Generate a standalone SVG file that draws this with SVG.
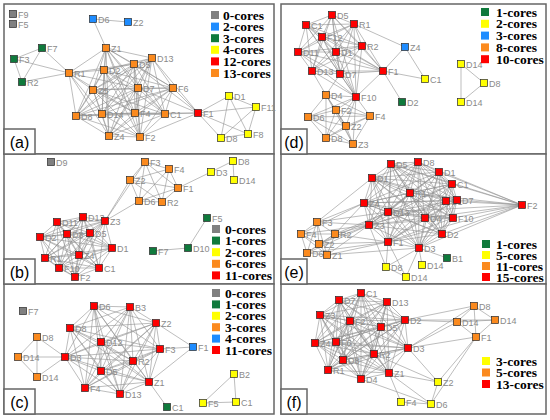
<svg xmlns="http://www.w3.org/2000/svg" width="550" height="420" viewBox="0 0 550 420">
<style>
.pn{fill:#fff;stroke:#666;stroke-width:1.5}
.e{fill:none;stroke:#909090;stroke-width:0.6;stroke-linecap:round}
.n rect{stroke:#2a2a2a;stroke-width:0.7}
.n text{font-family:"Liberation Sans",Arial,sans-serif;font-size:9px;fill:#8a8a8a}
.k0 rect,.q0{fill:#808080}
.kb rect,.qb{fill:#1e8cff}
.kg rect,.qg{fill:#0f7a3c}
.ky rect,.qy{fill:#ffff00}
.ko rect,.qo{fill:#fb8a1e}
.kr rect,.qr{fill:#ff0000}
.lg text{font-family:"Liberation Serif","Times New Roman",serif;font-weight:bold;font-size:13.5px;fill:#000}
.lb rect{fill:#fff;stroke:#666;stroke-width:1.5}
.lb text{font-family:"Liberation Sans",Arial,sans-serif;font-size:16px;fill:#000;text-anchor:middle}
</style>
<rect width="550" height="420" fill="#fff"/>
<g id="panels">
<rect class="pn" x="4" y="4" width="270" height="150"/>
<rect class="pn" x="4" y="154" width="270" height="130"/>
<rect class="pn" x="4" y="284" width="270" height="130"/>
<rect class="pn" x="281" y="4" width="265" height="150"/>
<rect class="pn" x="281" y="154" width="265" height="130"/>
<rect class="pn" x="281" y="284" width="265" height="130"/>
</g>
<g id="connectors">
<path class="e" d="M106 48 104 70M106 48 134 64M106 48 152 58M106 48 69 73M106 48 93 90M106 48 138 88M106 48 173 88M106 48 76 116M106 48 102 114M106 48 135 113M106 48 165 114M106 48 109 136M106 48 140 137M104 70 134 64M104 70 152 58M104 70 69 73M104 70 93 90M104 70 138 88M104 70 173 88M104 70 76 116M104 70 102 114M104 70 135 113M104 70 165 114M104 70 109 136M104 70 140 137M134 64 152 58M134 64 69 73M134 64 93 90M134 64 138 88M134 64 173 88M134 64 76 116M134 64 102 114M134 64 135 113M134 64 165 114M134 64 109 136M134 64 140 137M152 58 93 90M152 58 138 88M152 58 173 88M152 58 76 116M152 58 102 114M152 58 135 113M152 58 165 114M152 58 109 136M152 58 140 137M69 73 93 90M69 73 138 88M69 73 76 116M69 73 102 114M69 73 135 113M69 73 109 136M93 90 138 88M93 90 173 88M93 90 76 116M93 90 102 114M93 90 135 113M93 90 165 114M93 90 109 136M93 90 140 137M138 88 173 88M138 88 76 116M138 88 102 114M138 88 135 113M138 88 165 114M138 88 109 136M138 88 140 137M173 88 76 116M173 88 102 114M173 88 135 113M173 88 165 114M173 88 109 136M173 88 140 137M76 116 102 114M76 116 135 113M76 116 165 114M76 116 109 136M76 116 140 137M102 114 135 113M102 114 165 114M102 114 109 136M102 114 140 137M135 113 165 114M135 113 109 136M135 113 140 137M165 114 109 136M165 114 140 137M109 136 140 137"/>
<path class="e" d="M93 19 128 22M93 19 106 48M42 48 14 59M14 59 22 82M42 48 22 82M42 48 69 73M14 59 69 73M22 82 69 73M198 113 173 88M198 113 165 114M198 113 152 58M198 113 138 88M198 113 135 113M198 113 140 137M198 113 134 64M198 113 229 96M198 113 256 107M198 113 248 134M198 113 221 138M229 96 256 107M229 96 248 134M229 96 221 138M256 107 248 134M256 107 221 138M248 134 221 138"/>
<path class="e" d="M332 15 306 25M332 15 354 24M332 15 322 37M332 15 298 52M332 15 336 52M332 15 362 46M332 15 312 71M332 15 340 74M332 15 383 71M332 15 356 97M306 25 354 24M306 25 322 37M306 25 298 52M306 25 336 52M306 25 362 46M306 25 312 71M306 25 340 74M306 25 383 71M306 25 356 97M354 24 322 37M354 24 298 52M354 24 336 52M354 24 362 46M354 24 312 71M354 24 340 74M354 24 383 71M354 24 356 97M322 37 298 52M322 37 336 52M322 37 362 46M322 37 312 71M322 37 340 74M322 37 383 71M322 37 356 97M298 52 336 52M298 52 362 46M298 52 312 71M298 52 340 74M298 52 383 71M298 52 356 97M336 52 362 46M336 52 312 71M336 52 340 74M336 52 383 71M336 52 356 97M362 46 312 71M362 46 340 74M362 46 383 71M362 46 356 97M312 71 340 74M312 71 383 71M312 71 356 97M340 74 383 71M340 74 356 97M383 71 356 97"/>
<path class="e" d="M356 97 326 95M356 97 336 110M356 97 308 117M356 97 370 116M356 97 346 126M356 97 326 138M356 97 353 144M326 95 336 110M326 95 308 117M326 95 370 116M326 95 346 126M326 95 326 138M326 95 353 144M336 110 308 117M336 110 370 116M336 110 346 126M336 110 326 138M336 110 353 144M308 117 370 116M308 117 346 126M308 117 326 138M308 117 353 144M370 116 346 126M370 116 326 138M370 116 353 144M346 126 326 138M346 126 353 144M326 138 353 144M312 71 326 95M340 74 326 95M354 24 405 47M383 71 405 47M383 71 425 79M405 47 425 79M383 71 402 102M461 64 484 83M484 83 461 102M461 64 461 102"/>
<path class="e" d="M57 222 83 217M57 222 105 221M57 222 67 234M57 222 90 233M57 222 40 237M57 222 112 248M57 222 45 258M57 222 79 255M57 222 59 268M57 222 99 268M57 222 75 277M83 217 105 221M83 217 67 234M83 217 90 233M83 217 40 237M83 217 112 248M83 217 45 258M83 217 79 255M83 217 59 268M83 217 99 268M83 217 75 277M105 221 67 234M105 221 90 233M105 221 40 237M105 221 112 248M105 221 45 258M105 221 79 255M105 221 59 268M105 221 99 268M105 221 75 277M67 234 90 233M67 234 40 237M67 234 112 248M67 234 45 258M67 234 79 255M67 234 59 268M67 234 99 268M67 234 75 277M90 233 40 237M90 233 112 248M90 233 45 258M90 233 79 255M90 233 59 268M90 233 99 268M90 233 75 277M40 237 112 248M40 237 45 258M40 237 79 255M40 237 59 268M40 237 99 268M40 237 75 277M112 248 45 258M112 248 79 255M112 248 59 268M112 248 99 268M112 248 75 277M45 258 79 255M45 258 59 268M45 258 99 268M45 258 75 277M79 255 59 268M79 255 99 268M79 255 75 277M59 268 99 268M59 268 75 277M99 268 75 277"/>
<path class="e" d="M105 221 130 180M105 221 139 201M105 221 145 162M130 180 145 162M130 180 169 169M130 180 178 188M130 180 139 201M130 180 162 202M145 162 169 169M145 162 178 188M145 162 139 201M145 162 162 202M169 169 178 188M169 169 139 201M169 169 162 202M178 188 139 201M178 188 162 202M139 201 162 202M178 188 211 172M211 172 233 161M233 161 234 180M207 218 188 248M188 248 153 251"/>
<path class="e" d="M391 164 372 178M391 164 410 193M391 164 364 203M391 164 388 212M391 164 369 225M391 164 388 242M391 164 418 162M391 164 439 172M391 164 452 184M391 164 457 200M391 164 425 218M391 164 453 218M391 164 442 234M391 164 419 248M372 178 410 193M372 178 364 203M372 178 388 212M372 178 369 225M372 178 388 242M372 178 418 162M372 178 439 172M372 178 452 184M372 178 457 200M372 178 425 218M372 178 453 218M372 178 442 234M372 178 419 248M410 193 364 203M410 193 388 212M410 193 369 225M410 193 388 242M410 193 418 162M410 193 439 172M410 193 452 184M410 193 457 200M410 193 425 218M410 193 453 218M410 193 442 234M410 193 419 248M364 203 388 212M364 203 369 225M364 203 388 242M364 203 418 162M364 203 439 172M364 203 452 184M364 203 457 200M364 203 425 218M364 203 453 218M364 203 442 234M364 203 419 248M388 212 369 225M388 212 388 242M388 212 418 162M388 212 439 172M388 212 452 184M388 212 457 200M388 212 425 218M388 212 453 218M388 212 442 234M388 212 419 248M369 225 388 242M369 225 418 162M369 225 439 172M369 225 452 184M369 225 457 200M369 225 425 218M369 225 453 218M369 225 442 234M369 225 419 248M388 242 418 162M388 242 439 172M388 242 452 184M388 242 457 200M388 242 425 218M388 242 453 218M388 242 442 234M388 242 419 248M418 162 439 172M418 162 452 184M418 162 457 200M418 162 425 218M418 162 453 218M418 162 442 234M418 162 419 248M439 172 452 184M439 172 457 200M439 172 425 218M439 172 453 218M439 172 442 234M439 172 419 248M452 184 457 200M452 184 425 218M452 184 453 218M452 184 442 234M452 184 419 248M457 200 425 218M457 200 453 218M457 200 442 234M457 200 419 248M425 218 453 218M425 218 442 234M425 218 419 248M453 218 442 234M453 218 419 248M442 234 419 248M446 201 391 164M446 201 372 178M446 201 364 203M446 201 369 225M446 201 388 242M446 201 419 248"/>
<path class="e" d="M522 205 418 162M522 205 439 172M522 205 452 184M522 205 457 200M522 205 446 201M522 205 453 218M522 205 425 218M522 205 442 234M522 205 419 248M522 205 410 193M522 205 391 164M522 205 388 212M522 205 388 242M317 222 301 234M317 222 335 234M317 222 319 244M317 222 307 253M317 222 327 255M301 234 335 234M301 234 319 244M301 234 307 253M301 234 327 255M335 234 319 244M335 234 307 253M335 234 327 255M319 244 307 253M319 244 327 255M307 253 327 255M317 222 372 178M317 222 364 203M317 222 369 225M317 222 388 212M301 234 364 203M301 234 369 225M335 234 369 225M335 234 388 212M335 234 388 242M335 234 364 203M319 244 369 225M319 244 388 242M319 244 388 212M307 253 388 242M327 255 388 242M327 255 369 225M327 255 419 248M307 253 369 225M386 267 388 242M386 267 419 248M422 265 419 248M406 277 419 248M406 277 388 242M406 277 386 267M386 267 369 225M447 258 419 248"/>
<path class="e" d="M65 357 94 306M65 357 130 307M65 357 70 328M65 357 101 342M65 357 133 361M65 357 101 371M65 357 85 388M65 357 120 394M65 357 156 323M65 357 160 349M65 357 149 382M94 306 130 307M94 306 70 328M94 306 101 342M94 306 133 361M94 306 101 371M94 306 85 388M94 306 120 394M94 306 156 323M94 306 160 349M94 306 149 382M130 307 70 328M130 307 101 342M130 307 133 361M130 307 101 371M130 307 85 388M130 307 120 394M130 307 156 323M130 307 160 349M130 307 149 382M70 328 101 342M70 328 133 361M70 328 101 371M70 328 85 388M70 328 120 394M70 328 156 323M70 328 160 349M70 328 149 382M101 342 133 361M101 342 101 371M101 342 85 388M101 342 120 394M101 342 156 323M101 342 160 349M101 342 149 382M133 361 101 371M133 361 85 388M133 361 120 394M133 361 156 323M133 361 160 349M133 361 149 382M101 371 85 388M101 371 120 394M101 371 156 323M101 371 160 349M101 371 149 382M85 388 120 394M85 388 156 323M85 388 160 349M85 388 149 382M120 394 156 323M120 394 160 349M120 394 149 382M156 323 160 349M156 323 149 382M160 349 149 382"/>
<path class="e" d="M37 337 18 357M37 337 37 377M18 357 37 377M37 337 65 357M18 357 65 357M37 377 65 357M193 347 156 323M193 347 160 349M193 347 149 382M149 382 167 407M234 374 236 402M203 403 236 402M203 403 234 374"/>
<path class="e" d="M361 293 339 300M361 293 387 302M361 293 320 315M361 293 350 321M361 293 405 320M361 293 381 327M361 293 315 343M361 293 336 342M361 293 374 354M361 293 408 348M361 293 343 360M361 293 328 370M361 293 389 373M361 293 361 379M339 300 387 302M339 300 320 315M339 300 350 321M339 300 405 320M339 300 381 327M339 300 315 343M339 300 336 342M339 300 374 354M339 300 408 348M339 300 343 360M339 300 328 370M339 300 389 373M339 300 361 379M387 302 320 315M387 302 350 321M387 302 405 320M387 302 381 327M387 302 315 343M387 302 336 342M387 302 374 354M387 302 408 348M387 302 343 360M387 302 328 370M387 302 389 373M387 302 361 379M320 315 350 321M320 315 405 320M320 315 381 327M320 315 315 343M320 315 336 342M320 315 374 354M320 315 408 348M320 315 343 360M320 315 328 370M320 315 389 373M320 315 361 379M350 321 405 320M350 321 381 327M350 321 315 343M350 321 336 342M350 321 374 354M350 321 408 348M350 321 343 360M350 321 328 370M350 321 389 373M350 321 361 379M405 320 381 327M405 320 315 343M405 320 336 342M405 320 374 354M405 320 408 348M405 320 343 360M405 320 328 370M405 320 389 373M405 320 361 379M381 327 315 343M381 327 336 342M381 327 374 354M381 327 408 348M381 327 343 360M381 327 328 370M381 327 389 373M381 327 361 379M315 343 336 342M315 343 374 354M315 343 408 348M315 343 343 360M315 343 328 370M315 343 389 373M315 343 361 379M336 342 374 354M336 342 408 348M336 342 343 360M336 342 328 370M336 342 389 373M336 342 361 379M374 354 408 348M374 354 343 360M374 354 328 370M374 354 389 373M374 354 361 379M408 348 343 360M408 348 328 370M408 348 389 373M408 348 361 379M343 360 328 370M343 360 389 373M343 360 361 379M328 370 389 373M328 370 361 379M389 373 361 379"/>
<path class="e" d="M474 306 457 322M474 306 495 320M474 306 476 337M457 322 495 320M457 322 476 337M495 320 476 337M405 320 474 306M405 320 457 322M405 320 495 320M408 348 457 322M408 348 476 337M408 348 474 306M438 382 476 337M431 404 476 337M438 382 431 404M401 402 431 404M389 373 438 382M389 373 431 404M374 354 438 382M361 379 431 404M389 373 401 402M408 348 438 382"/>
</g>
<g id="nodes-a">
<g id="a-F9" class="n k0" transform="translate(13 14)"><rect x="-3.5" y="-3.5" width="7" height="7"/><text x="5" y="3.5">F9</text></g>
<g id="a-F5" class="n k0" transform="translate(13 24)"><rect x="-3.5" y="-3.5" width="7" height="7"/><text x="5" y="3.5">F5</text></g>
<g id="a-D6" class="n kb" transform="translate(93 19)"><rect x="-3.5" y="-3.5" width="7" height="7"/><text x="5" y="3.5">D6</text></g>
<g id="a-Z2" class="n kb" transform="translate(128 22)"><rect x="-3.5" y="-3.5" width="7" height="7"/><text x="5" y="3.5">Z2</text></g>
<g id="a-F7" class="n kg" transform="translate(42 48)"><rect x="-3.5" y="-3.5" width="7" height="7"/><text x="5" y="3.5">F7</text></g>
<g id="a-F3" class="n kg" transform="translate(14 59)"><rect x="-3.5" y="-3.5" width="7" height="7"/><text x="5" y="3.5">F3</text></g>
<g id="a-R2" class="n kg" transform="translate(22 82)"><rect x="-3.5" y="-3.5" width="7" height="7"/><text x="5" y="3.5">R2</text></g>
<g id="a-R1" class="n ko" transform="translate(69 73)"><rect x="-3.5" y="-3.5" width="7" height="7"/><text x="5" y="3.5">R1</text></g>
<g id="a-Z1" class="n ko" transform="translate(106 48)"><rect x="-3.5" y="-3.5" width="7" height="7"/><text x="5" y="3.5">Z1</text></g>
<g id="a-D2" class="n ko" transform="translate(104 70)"><rect x="-3.5" y="-3.5" width="7" height="7"/><text x="5" y="3.5">D2</text></g>
<g id="a-D5" class="n ko" transform="translate(134 64)"><rect x="-3.5" y="-3.5" width="7" height="7"/><text x="5" y="3.5">D5</text></g>
<g id="a-D13" class="n ko" transform="translate(152 58)"><rect x="-3.5" y="-3.5" width="7" height="7"/><text x="5" y="3.5">D13</text></g>
<g id="a-Z5" class="n ko" transform="translate(93 90)"><rect x="-3.5" y="-3.5" width="7" height="7"/><text x="5" y="3.5">Z5</text></g>
<g id="a-D7" class="n ko" transform="translate(138 88)"><rect x="-3.5" y="-3.5" width="7" height="7"/><text x="5" y="3.5">D7</text></g>
<g id="a-F6" class="n ko" transform="translate(173 88)"><rect x="-3.5" y="-3.5" width="7" height="7"/><text x="5" y="3.5">F6</text></g>
<g id="a-D8" class="n ko" transform="translate(76 116)"><rect x="-3.5" y="-3.5" width="7" height="7"/><text x="5" y="3.5">D8</text></g>
<g id="a-D14" class="n ko" transform="translate(102 114)"><rect x="-3.5" y="-3.5" width="7" height="7"/><text x="5" y="3.5">D14</text></g>
<g id="a-F4" class="n ko" transform="translate(135 113)"><rect x="-3.5" y="-3.5" width="7" height="7"/><text x="5" y="3.5">F4</text></g>
<g id="a-C1" class="n ko" transform="translate(165 114)"><rect x="-3.5" y="-3.5" width="7" height="7"/><text x="5" y="3.5">C1</text></g>
<g id="a-Z4" class="n ko" transform="translate(109 136)"><rect x="-3.5" y="-3.5" width="7" height="7"/><text x="5" y="3.5">Z4</text></g>
<g id="a-F2" class="n ko" transform="translate(140 137)"><rect x="-3.5" y="-3.5" width="7" height="7"/><text x="5" y="3.5">F2</text></g>
<g id="a-F1" class="n kr" transform="translate(198 113)"><rect x="-3.5" y="-3.5" width="7" height="7"/><text x="5" y="3.5">F1</text></g>
<g id="a-D1" class="n ky" transform="translate(229 96)"><rect x="-3.5" y="-3.5" width="7" height="7"/><text x="5" y="3.5">D1</text></g>
<g id="a-F11" class="n ky" transform="translate(256 107)"><rect x="-3.5" y="-3.5" width="7" height="7"/><text x="5" y="3.5">F11</text></g>
<g id="a-F8" class="n ky" transform="translate(248 134)"><rect x="-3.5" y="-3.5" width="7" height="7"/><text x="5" y="3.5">F8</text></g>
<g id="a-D8y" class="n ky" transform="translate(221 138)"><rect x="-3.5" y="-3.5" width="7" height="7"/><text x="5" y="3.5">D8</text></g>
</g>
<g id="nodes-d">
<g id="d-D5" class="n kr" transform="translate(332 15)"><rect x="-3.5" y="-3.5" width="7" height="7"/><text x="5" y="3.5">D5</text></g>
<g id="d-C1" class="n kr" transform="translate(306 25)"><rect x="-3.5" y="-3.5" width="7" height="7"/><text x="5" y="3.5">C1</text></g>
<g id="d-R1" class="n kr" transform="translate(354 24)"><rect x="-3.5" y="-3.5" width="7" height="7"/><text x="5" y="3.5">R1</text></g>
<g id="d-F12" class="n kr" transform="translate(322 37)"><rect x="-3.5" y="-3.5" width="7" height="7"/><text x="5" y="3.5">F12</text></g>
<g id="d-D11" class="n kr" transform="translate(298 52)"><rect x="-3.5" y="-3.5" width="7" height="7"/><text x="5" y="3.5">D11</text></g>
<g id="d-D1" class="n kr" transform="translate(336 52)"><rect x="-3.5" y="-3.5" width="7" height="7"/><text x="5" y="3.5">D1</text></g>
<g id="d-R2" class="n kr" transform="translate(362 46)"><rect x="-3.5" y="-3.5" width="7" height="7"/><text x="5" y="3.5">R2</text></g>
<g id="d-D13" class="n kr" transform="translate(312 71)"><rect x="-3.5" y="-3.5" width="7" height="7"/><text x="5" y="3.5">D13</text></g>
<g id="d-D7" class="n kr" transform="translate(340 74)"><rect x="-3.5" y="-3.5" width="7" height="7"/><text x="5" y="3.5">D7</text></g>
<g id="d-F1" class="n kr" transform="translate(383 71)"><rect x="-3.5" y="-3.5" width="7" height="7"/><text x="5" y="3.5">F1</text></g>
<g id="d-F10" class="n kr" transform="translate(356 97)"><rect x="-3.5" y="-3.5" width="7" height="7"/><text x="5" y="3.5">F10</text></g>
<g id="d-Z4" class="n kb" transform="translate(405 47)"><rect x="-3.5" y="-3.5" width="7" height="7"/><text x="5" y="3.5">Z4</text></g>
<g id="d-D2" class="n kg" transform="translate(402 102)"><rect x="-3.5" y="-3.5" width="7" height="7"/><text x="5" y="3.5">D2</text></g>
<g id="d-C1y" class="n ky" transform="translate(425 79)"><rect x="-3.5" y="-3.5" width="7" height="7"/><text x="5" y="3.5">C1</text></g>
<g id="d-D14a" class="n ky" transform="translate(461 64)"><rect x="-3.5" y="-3.5" width="7" height="7"/><text x="5" y="3.5">D14</text></g>
<g id="d-D8y" class="n ky" transform="translate(484 83)"><rect x="-3.5" y="-3.5" width="7" height="7"/><text x="5" y="3.5">D8</text></g>
<g id="d-D14b" class="n ky" transform="translate(461 102)"><rect x="-3.5" y="-3.5" width="7" height="7"/><text x="5" y="3.5">D14</text></g>
<g id="d-D4" class="n ko" transform="translate(326 95)"><rect x="-3.5" y="-3.5" width="7" height="7"/><text x="5" y="3.5">D4</text></g>
<g id="d-F2" class="n ko" transform="translate(336 110)"><rect x="-3.5" y="-3.5" width="7" height="7"/><text x="5" y="3.5">F2</text></g>
<g id="d-D6" class="n ko" transform="translate(308 117)"><rect x="-3.5" y="-3.5" width="7" height="7"/><text x="5" y="3.5">D6</text></g>
<g id="d-F4" class="n ko" transform="translate(370 116)"><rect x="-3.5" y="-3.5" width="7" height="7"/><text x="5" y="3.5">F4</text></g>
<g id="d-Z2" class="n ko" transform="translate(346 126)"><rect x="-3.5" y="-3.5" width="7" height="7"/><text x="5" y="3.5">Z2</text></g>
<g id="d-D8" class="n ko" transform="translate(326 138)"><rect x="-3.5" y="-3.5" width="7" height="7"/><text x="5" y="3.5">D8</text></g>
<g id="d-Z3" class="n ko" transform="translate(353 144)"><rect x="-3.5" y="-3.5" width="7" height="7"/><text x="5" y="3.5">Z3</text></g>
</g>
<g id="nodes-b">
<g id="b-D9" class="n k0" transform="translate(51 162)"><rect x="-3.5" y="-3.5" width="7" height="7"/><text x="5" y="3.5">D9</text></g>
<g id="b-Z2" class="n ko" transform="translate(130 180)"><rect x="-3.5" y="-3.5" width="7" height="7"/><text x="5" y="3.5">Z2</text></g>
<g id="b-F3" class="n ko" transform="translate(145 162)"><rect x="-3.5" y="-3.5" width="7" height="7"/><text x="5" y="3.5">F3</text></g>
<g id="b-F4" class="n ko" transform="translate(169 169)"><rect x="-3.5" y="-3.5" width="7" height="7"/><text x="5" y="3.5">F4</text></g>
<g id="b-F1" class="n ko" transform="translate(178 188)"><rect x="-3.5" y="-3.5" width="7" height="7"/><text x="5" y="3.5">F1</text></g>
<g id="b-D6" class="n ko" transform="translate(139 201)"><rect x="-3.5" y="-3.5" width="7" height="7"/><text x="5" y="3.5">D6</text></g>
<g id="b-R2" class="n ko" transform="translate(162 202)"><rect x="-3.5" y="-3.5" width="7" height="7"/><text x="5" y="3.5">R2</text></g>
<g id="b-D3" class="n ky" transform="translate(211 172)"><rect x="-3.5" y="-3.5" width="7" height="7"/><text x="5" y="3.5">D3</text></g>
<g id="b-D8y" class="n ky" transform="translate(233 161)"><rect x="-3.5" y="-3.5" width="7" height="7"/><text x="5" y="3.5">D8</text></g>
<g id="b-D14" class="n ky" transform="translate(234 180)"><rect x="-3.5" y="-3.5" width="7" height="7"/><text x="5" y="3.5">D14</text></g>
<g id="b-F5" class="n kg" transform="translate(207 218)"><rect x="-3.5" y="-3.5" width="7" height="7"/><text x="5" y="3.5">F5</text></g>
<g id="b-D10" class="n kg" transform="translate(188 248)"><rect x="-3.5" y="-3.5" width="7" height="7"/><text x="5" y="3.5">D10</text></g>
<g id="b-F7" class="n kg" transform="translate(153 251)"><rect x="-3.5" y="-3.5" width="7" height="7"/><text x="5" y="3.5">F7</text></g>
<g id="b-D11" class="n kr" transform="translate(57 222)"><rect x="-3.5" y="-3.5" width="7" height="7"/><text x="5" y="3.5">D11</text></g>
<g id="b-D13" class="n kr" transform="translate(83 217)"><rect x="-3.5" y="-3.5" width="7" height="7"/><text x="5" y="3.5">D13</text></g>
<g id="b-Z3" class="n kr" transform="translate(105 221)"><rect x="-3.5" y="-3.5" width="7" height="7"/><text x="5" y="3.5">Z3</text></g>
<g id="b-D8" class="n kr" transform="translate(67 234)"><rect x="-3.5" y="-3.5" width="7" height="7"/><text x="5" y="3.5">D8</text></g>
<g id="b-D5" class="n kr" transform="translate(90 233)"><rect x="-3.5" y="-3.5" width="7" height="7"/><text x="5" y="3.5">D5</text></g>
<g id="b-D2" class="n kr" transform="translate(40 237)"><rect x="-3.5" y="-3.5" width="7" height="7"/><text x="5" y="3.5">D2</text></g>
<g id="b-D1" class="n kr" transform="translate(112 248)"><rect x="-3.5" y="-3.5" width="7" height="7"/><text x="5" y="3.5">D1</text></g>
<g id="b-R1" class="n kr" transform="translate(45 258)"><rect x="-3.5" y="-3.5" width="7" height="7"/><text x="5" y="3.5">R1</text></g>
<g id="b-Z4" class="n kr" transform="translate(79 255)"><rect x="-3.5" y="-3.5" width="7" height="7"/><text x="5" y="3.5">Z4</text></g>
<g id="b-F10" class="n kr" transform="translate(59 268)"><rect x="-3.5" y="-3.5" width="7" height="7"/><text x="5" y="3.5">F10</text></g>
<g id="b-C1" class="n kr" transform="translate(99 268)"><rect x="-3.5" y="-3.5" width="7" height="7"/><text x="5" y="3.5">C1</text></g>
<g id="b-F2" class="n kr" transform="translate(75 277)"><rect x="-3.5" y="-3.5" width="7" height="7"/><text x="5" y="3.5">F2</text></g>
</g>
<g id="nodes-e">
<g id="e-D5" class="n kr" transform="translate(391 164)"><rect x="-3.5" y="-3.5" width="7" height="7"/><text x="5" y="3.5">D5</text></g>
<g id="e-D1a" class="n kr" transform="translate(372 178)"><rect x="-3.5" y="-3.5" width="7" height="7"/><text x="5" y="3.5">D1</text></g>
<g id="e-R1" class="n kr" transform="translate(410 193)"><rect x="-3.5" y="-3.5" width="7" height="7"/><text x="5" y="3.5">R1</text></g>
<g id="e-Z4" class="n kr" transform="translate(364 203)"><rect x="-3.5" y="-3.5" width="7" height="7"/><text x="5" y="3.5">Z4</text></g>
<g id="e-D13" class="n kr" transform="translate(388 212)"><rect x="-3.5" y="-3.5" width="7" height="7"/><text x="5" y="3.5">D13</text></g>
<g id="e-Z3" class="n kr" transform="translate(369 225)"><rect x="-3.5" y="-3.5" width="7" height="7"/><text x="5" y="3.5">Z3</text></g>
<g id="e-F1" class="n kr" transform="translate(388 242)"><rect x="-3.5" y="-3.5" width="7" height="7"/><text x="5" y="3.5">F1</text></g>
<g id="e-D8" class="n kr" transform="translate(418 162)"><rect x="-3.5" y="-3.5" width="7" height="7"/><text x="5" y="3.5">D8</text></g>
<g id="e-D1b" class="n kr" transform="translate(439 172)"><rect x="-3.5" y="-3.5" width="7" height="7"/><text x="5" y="3.5">D1</text></g>
<g id="e-C1" class="n kr" transform="translate(452 184)"><rect x="-3.5" y="-3.5" width="7" height="7"/><text x="5" y="3.5">C1</text></g>
<g id="e-D1c" class="n kr" transform="translate(446 201)"><rect x="-3.5" y="-3.5" width="7" height="7"/><text x="5" y="3.5">D1</text></g>
<g id="e-D7" class="n kr" transform="translate(457 200)"><rect x="-3.5" y="-3.5" width="7" height="7"/><text x="5" y="3.5">D7</text></g>
<g id="e-D4" class="n kr" transform="translate(425 218)"><rect x="-3.5" y="-3.5" width="7" height="7"/><text x="5" y="3.5">D4</text></g>
<g id="e-F10" class="n kr" transform="translate(453 218)"><rect x="-3.5" y="-3.5" width="7" height="7"/><text x="5" y="3.5">F10</text></g>
<g id="e-D2" class="n kr" transform="translate(442 234)"><rect x="-3.5" y="-3.5" width="7" height="7"/><text x="5" y="3.5">D2</text></g>
<g id="e-D3" class="n kr" transform="translate(419 248)"><rect x="-3.5" y="-3.5" width="7" height="7"/><text x="5" y="3.5">D3</text></g>
<g id="e-F2" class="n kr" transform="translate(522 205)"><rect x="-3.5" y="-3.5" width="7" height="7"/><text x="5" y="3.5">F2</text></g>
<g id="e-F3" class="n ko" transform="translate(317 222)"><rect x="-3.5" y="-3.5" width="7" height="7"/><text x="5" y="3.5">F3</text></g>
<g id="e-F4" class="n ko" transform="translate(301 234)"><rect x="-3.5" y="-3.5" width="7" height="7"/><text x="5" y="3.5">F4</text></g>
<g id="e-R2" class="n ko" transform="translate(335 234)"><rect x="-3.5" y="-3.5" width="7" height="7"/><text x="5" y="3.5">R2</text></g>
<g id="e-Z2" class="n ko" transform="translate(319 244)"><rect x="-3.5" y="-3.5" width="7" height="7"/><text x="5" y="3.5">Z2</text></g>
<g id="e-D6" class="n ko" transform="translate(307 253)"><rect x="-3.5" y="-3.5" width="7" height="7"/><text x="5" y="3.5">D6</text></g>
<g id="e-Z1" class="n ko" transform="translate(327 255)"><rect x="-3.5" y="-3.5" width="7" height="7"/><text x="5" y="3.5">Z1</text></g>
<g id="e-D8y" class="n ky" transform="translate(386 267)"><rect x="-3.5" y="-3.5" width="7" height="7"/><text x="5" y="3.5">D8</text></g>
<g id="e-D14a" class="n ky" transform="translate(422 265)"><rect x="-3.5" y="-3.5" width="7" height="7"/><text x="5" y="3.5">D14</text></g>
<g id="e-D14b" class="n ky" transform="translate(406 277)"><rect x="-3.5" y="-3.5" width="7" height="7"/><text x="5" y="3.5">D14</text></g>
<g id="e-B1" class="n kg" transform="translate(447 258)"><rect x="-3.5" y="-3.5" width="7" height="7"/><text x="5" y="3.5">B1</text></g>
</g>
<g id="nodes-c">
<g id="c-F7" class="n k0" transform="translate(23 311)"><rect x="-3.5" y="-3.5" width="7" height="7"/><text x="5" y="3.5">F7</text></g>
<g id="c-D8o" class="n ko" transform="translate(37 337)"><rect x="-3.5" y="-3.5" width="7" height="7"/><text x="5" y="3.5">D8</text></g>
<g id="c-D14a" class="n ko" transform="translate(18 357)"><rect x="-3.5" y="-3.5" width="7" height="7"/><text x="5" y="3.5">D14</text></g>
<g id="c-D14b" class="n ko" transform="translate(37 377)"><rect x="-3.5" y="-3.5" width="7" height="7"/><text x="5" y="3.5">D14</text></g>
<g id="c-D3" class="n kr" transform="translate(65 357)"><rect x="-3.5" y="-3.5" width="7" height="7"/><text x="5" y="3.5">D3</text></g>
<g id="c-D6" class="n kr" transform="translate(94 306)"><rect x="-3.5" y="-3.5" width="7" height="7"/><text x="5" y="3.5">D6</text></g>
<g id="c-B3" class="n kr" transform="translate(130 307)"><rect x="-3.5" y="-3.5" width="7" height="7"/><text x="5" y="3.5">B3</text></g>
<g id="c-D8" class="n kr" transform="translate(70 328)"><rect x="-3.5" y="-3.5" width="7" height="7"/><text x="5" y="3.5">D8</text></g>
<g id="c-D12" class="n kr" transform="translate(101 342)"><rect x="-3.5" y="-3.5" width="7" height="7"/><text x="5" y="3.5">D12</text></g>
<g id="c-R2" class="n kr" transform="translate(133 361)"><rect x="-3.5" y="-3.5" width="7" height="7"/><text x="5" y="3.5">R2</text></g>
<g id="c-D5" class="n kr" transform="translate(101 371)"><rect x="-3.5" y="-3.5" width="7" height="7"/><text x="5" y="3.5">D5</text></g>
<g id="c-F4" class="n kr" transform="translate(85 388)"><rect x="-3.5" y="-3.5" width="7" height="7"/><text x="5" y="3.5">F4</text></g>
<g id="c-D13" class="n kr" transform="translate(120 394)"><rect x="-3.5" y="-3.5" width="7" height="7"/><text x="5" y="3.5">D13</text></g>
<g id="c-Z2" class="n kr" transform="translate(156 323)"><rect x="-3.5" y="-3.5" width="7" height="7"/><text x="5" y="3.5">Z2</text></g>
<g id="c-F3" class="n kr" transform="translate(160 349)"><rect x="-3.5" y="-3.5" width="7" height="7"/><text x="5" y="3.5">F3</text></g>
<g id="c-Z1" class="n kr" transform="translate(149 382)"><rect x="-3.5" y="-3.5" width="7" height="7"/><text x="5" y="3.5">Z1</text></g>
<g id="c-F1" class="n kb" transform="translate(193 347)"><rect x="-3.5" y="-3.5" width="7" height="7"/><text x="5" y="3.5">F1</text></g>
<g id="c-C1g" class="n kg" transform="translate(167 407)"><rect x="-3.5" y="-3.5" width="7" height="7"/><text x="5" y="3.5">C1</text></g>
<g id="c-B2" class="n ky" transform="translate(234 374)"><rect x="-3.5" y="-3.5" width="7" height="7"/><text x="5" y="3.5">B2</text></g>
<g id="c-F5" class="n ky" transform="translate(203 403)"><rect x="-3.5" y="-3.5" width="7" height="7"/><text x="5" y="3.5">F5</text></g>
<g id="c-C1y" class="n ky" transform="translate(236 402)"><rect x="-3.5" y="-3.5" width="7" height="7"/><text x="5" y="3.5">C1</text></g>
</g>
<g id="nodes-f">
<g id="f-C1" class="n kr" transform="translate(361 293)"><rect x="-3.5" y="-3.5" width="7" height="7"/><text x="5" y="3.5">C1</text></g>
<g id="f-D7" class="n kr" transform="translate(339 300)"><rect x="-3.5" y="-3.5" width="7" height="7"/><text x="5" y="3.5">D7</text></g>
<g id="f-D13" class="n kr" transform="translate(387 302)"><rect x="-3.5" y="-3.5" width="7" height="7"/><text x="5" y="3.5">D13</text></g>
<g id="f-Z3" class="n kr" transform="translate(320 315)"><rect x="-3.5" y="-3.5" width="7" height="7"/><text x="5" y="3.5">Z3</text></g>
<g id="f-F2" class="n kr" transform="translate(350 321)"><rect x="-3.5" y="-3.5" width="7" height="7"/><text x="5" y="3.5">F2</text></g>
<g id="f-D2" class="n kr" transform="translate(405 320)"><rect x="-3.5" y="-3.5" width="7" height="7"/><text x="5" y="3.5">D2</text></g>
<g id="f-D5" class="n kr" transform="translate(381 327)"><rect x="-3.5" y="-3.5" width="7" height="7"/><text x="5" y="3.5">D5</text></g>
<g id="f-Z4" class="n kr" transform="translate(315 343)"><rect x="-3.5" y="-3.5" width="7" height="7"/><text x="5" y="3.5">Z4</text></g>
<g id="f-F6" class="n kr" transform="translate(336 342)"><rect x="-3.5" y="-3.5" width="7" height="7"/><text x="5" y="3.5">F6</text></g>
<g id="f-R2" class="n kr" transform="translate(374 354)"><rect x="-3.5" y="-3.5" width="7" height="7"/><text x="5" y="3.5">R2</text></g>
<g id="f-D3" class="n kr" transform="translate(408 348)"><rect x="-3.5" y="-3.5" width="7" height="7"/><text x="5" y="3.5">D3</text></g>
<g id="f-D8" class="n kr" transform="translate(343 360)"><rect x="-3.5" y="-3.5" width="7" height="7"/><text x="5" y="3.5">D8</text></g>
<g id="f-R1" class="n kr" transform="translate(328 370)"><rect x="-3.5" y="-3.5" width="7" height="7"/><text x="5" y="3.5">R1</text></g>
<g id="f-Z1" class="n kr" transform="translate(389 373)"><rect x="-3.5" y="-3.5" width="7" height="7"/><text x="5" y="3.5">Z1</text></g>
<g id="f-D4" class="n kr" transform="translate(361 379)"><rect x="-3.5" y="-3.5" width="7" height="7"/><text x="5" y="3.5">D4</text></g>
<g id="f-D8o" class="n ko" transform="translate(474 306)"><rect x="-3.5" y="-3.5" width="7" height="7"/><text x="5" y="3.5">D8</text></g>
<g id="f-D14a" class="n ko" transform="translate(457 322)"><rect x="-3.5" y="-3.5" width="7" height="7"/><text x="5" y="3.5">D14</text></g>
<g id="f-D14b" class="n ko" transform="translate(495 320)"><rect x="-3.5" y="-3.5" width="7" height="7"/><text x="5" y="3.5">D14</text></g>
<g id="f-F1" class="n ko" transform="translate(476 337)"><rect x="-3.5" y="-3.5" width="7" height="7"/><text x="5" y="3.5">F1</text></g>
<g id="f-Z2" class="n ky" transform="translate(438 382)"><rect x="-3.5" y="-3.5" width="7" height="7"/><text x="5" y="3.5">Z2</text></g>
<g id="f-D6" class="n ky" transform="translate(431 404)"><rect x="-3.5" y="-3.5" width="7" height="7"/><text x="5" y="3.5">D6</text></g>
<g id="f-F4" class="n ky" transform="translate(401 402)"><rect x="-3.5" y="-3.5" width="7" height="7"/><text x="5" y="3.5">F4</text></g>
</g>
<g id="legend-a" class="lg">
<rect class="q0" x="211" y="11" width="8" height="8"/><text x="223" y="19.5">0-cores</text>
<rect class="qb" x="211" y="22.6" width="8" height="8"/><text x="223" y="31.1">2-cores</text>
<rect class="qg" x="211" y="34.2" width="8" height="8"/><text x="223" y="42.7">3-cores</text>
<rect class="qy" x="211" y="45.8" width="8" height="8"/><text x="223" y="54.3">4-cores</text>
<rect class="qr" x="211" y="57.4" width="8" height="8"/><text x="223" y="65.9">12-cores</text>
<rect class="qo" x="211" y="69" width="8" height="8"/><text x="223" y="77.5">13-cores</text>
</g>
<g id="legend-b" class="lg">
<rect class="q0" x="212" y="225" width="8" height="8"/><text x="225" y="233.5">0-cores</text>
<rect class="qg" x="212" y="236.6" width="8" height="8"/><text x="225" y="245.1">1-cores</text>
<rect class="qy" x="212" y="248.2" width="8" height="8"/><text x="225" y="256.7">2-cores</text>
<rect class="qo" x="212" y="259.8" width="8" height="8"/><text x="225" y="268.3">6-cores</text>
<rect class="qr" x="212" y="271.4" width="8" height="8"/><text x="225" y="279.9">11-cores</text>
</g>
<g id="legend-c" class="lg">
<rect class="q0" x="212" y="289" width="8" height="8"/><text x="225" y="297.5">0-cores</text>
<rect class="qg" x="212" y="300.4" width="8" height="8"/><text x="225" y="308.9">1-cores</text>
<rect class="qy" x="212" y="311.8" width="8" height="8"/><text x="225" y="320.3">2-cores</text>
<rect class="qo" x="212" y="323.2" width="8" height="8"/><text x="225" y="331.7">3-cores</text>
<rect class="qb" x="212" y="334.6" width="8" height="8"/><text x="225" y="343.1">4-cores</text>
<rect class="qr" x="212" y="346" width="8" height="8"/><text x="225" y="354.5">11-cores</text>
</g>
<g id="legend-d" class="lg">
<rect class="qg" x="481" y="8" width="8" height="8"/><text x="496" y="16.5">1-cores</text>
<rect class="qy" x="481" y="19.8" width="8" height="8"/><text x="496" y="28.3">2-cores</text>
<rect class="qb" x="481" y="31.6" width="8" height="8"/><text x="496" y="40.1">3-cores</text>
<rect class="qo" x="481" y="43.4" width="8" height="8"/><text x="496" y="51.9">8-cores</text>
<rect class="qr" x="481" y="55.2" width="8" height="8"/><text x="496" y="63.7">10-cores</text>
</g>
<g id="legend-e" class="lg">
<rect class="qg" x="482" y="240" width="8" height="8"/><text x="496" y="248.5">1-cores</text>
<rect class="qy" x="482" y="251" width="8" height="8"/><text x="496" y="259.5">5-cores</text>
<rect class="qo" x="482" y="262" width="8" height="8"/><text x="496" y="270.5">11-cores</text>
<rect class="qr" x="482" y="273" width="8" height="8"/><text x="496" y="281.5">15-cores</text>
</g>
<g id="legend-f" class="lg">
<rect class="qy" x="482" y="357" width="8" height="8"/><text x="496" y="365.5">3-cores</text>
<rect class="qo" x="482" y="368.5" width="8" height="8"/><text x="496" y="377">5-cores</text>
<rect class="qr" x="482" y="380" width="8" height="8"/><text x="496" y="388.5">13-cores</text>
</g>
<g id="labels" class="lb">
<rect x="4" y="129" width="31" height="25"/><text x="19.5" y="147.5">(a)</text>
<rect x="4" y="259" width="31" height="25"/><text x="19.5" y="277.5">(b)</text>
<rect x="4" y="389" width="31" height="25"/><text x="19.5" y="407.5">(c)</text>
<rect x="281" y="129" width="26" height="25"/><text x="294" y="147.5">(d)</text>
<rect x="281" y="259" width="26" height="25"/><text x="294" y="277.5">(e)</text>
<rect x="281" y="389" width="26" height="25"/><text x="294" y="407.5">(f)</text>
</g>
</svg>
